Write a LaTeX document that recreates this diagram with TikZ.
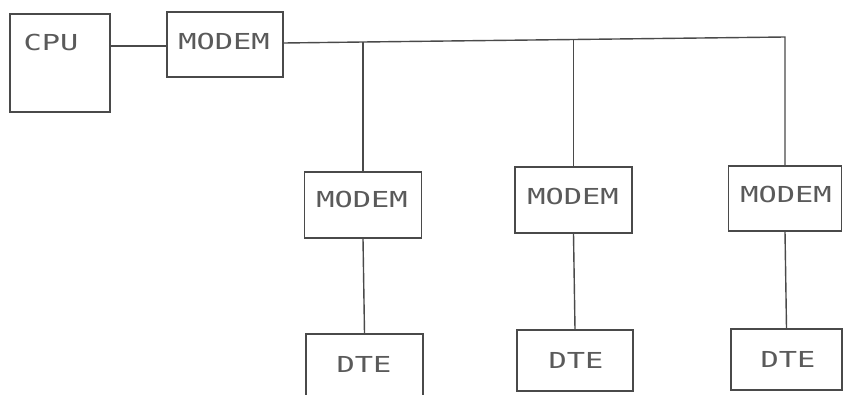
\documentclass[tikz,border=0pt]{standalone}
\usepackage{fontspec}
\setmonofont{DejaVu Sans Mono}
\definecolor{ink}{HTML}{4A4A4A}
\definecolor{txt}{HTML}{5A5A5A}
\newcommand{\wtxt}[1]{\scalebox{1.38}[1]{\ttfamily\fontsize{22}{22}\selectfont #1}}
\tikzset{
  box/.style={draw=ink, line width=1.4pt, rectangle, inner sep=0pt, text=txt, font=\ttfamily},
  wire/.style={draw=ink, line width=1.4pt},
}
\begin{document}
\begin{tikzpicture}[x=1pt,y=-1pt]
\useasboundingbox[fill=white] (0,0) rectangle (843,394);
% CPU and host modem
\node[box, minimum width=100pt, minimum height=98pt] (cpu) at (60,63) {};
\node[text=txt, anchor=center] (cputxt) at (51,42) {\wtxt{CPU}};
\node[box, minimum width=116pt, minimum height=65pt] (m0) at (225,44.5) {};
\node[text=txt] (m0txt) at (224,41) {\wtxt{MODEM}};
% remote modems
\node[box, minimum width=117pt, minimum height=66pt] (m1) at (363,205) {};
\node[text=txt] (m1txt) at (362,199) {\wtxt{MODEM}};
\node[box, minimum width=117pt, minimum height=66pt] (m2) at (573.5,200) {};
\node[text=txt] (m2txt) at (573,196) {\wtxt{MODEM}};
\node[box, minimum width=113pt, minimum height=65pt] (m3) at (785,198.5) {};
\node[text=txt] (m3txt) at (786,194) {\wtxt{MODEM}};
% DTEs
\node[box, minimum width=117pt, minimum height=64pt] (d1) at (364.5,366) {};
\node[text=txt] (d1txt) at (364,364) {\wtxt{DTE}};
\node[box, minimum width=116pt, minimum height=61pt] (d2) at (575,360.5) {};
\node[text=txt] (d2txt) at (576,360) {\wtxt{DTE}};
\node[box, minimum width=111pt, minimum height=61pt] (d3) at (786.5,359.5) {};
\node[text=txt] (d3txt) at (788,359) {\wtxt{DTE}};
% bus
\coordinate (b1) at (m1.north |- 0,42);
\coordinate (b2) at (m2.north |- 0,39.5);
\coordinate (b3) at (m3.north |- 0,37);
\draw[wire] (cpu.east |- 0,46) -- (m0.west |- 0,46);
\draw[wire] (m0.east |- 0,43) -- (b1) -- (b2) -- (b3) -- (m3.north);
\draw[wire] (b1) -- (m1.north);
\draw[wire] (b2) -- (m2.north);
\draw[wire] (m1.south) -- (d1.north);
\draw[wire] (m2.south) -- (d2.north);
\draw[wire] (m3.south) -- (d3.north);
\end{tikzpicture}
\end{document}
